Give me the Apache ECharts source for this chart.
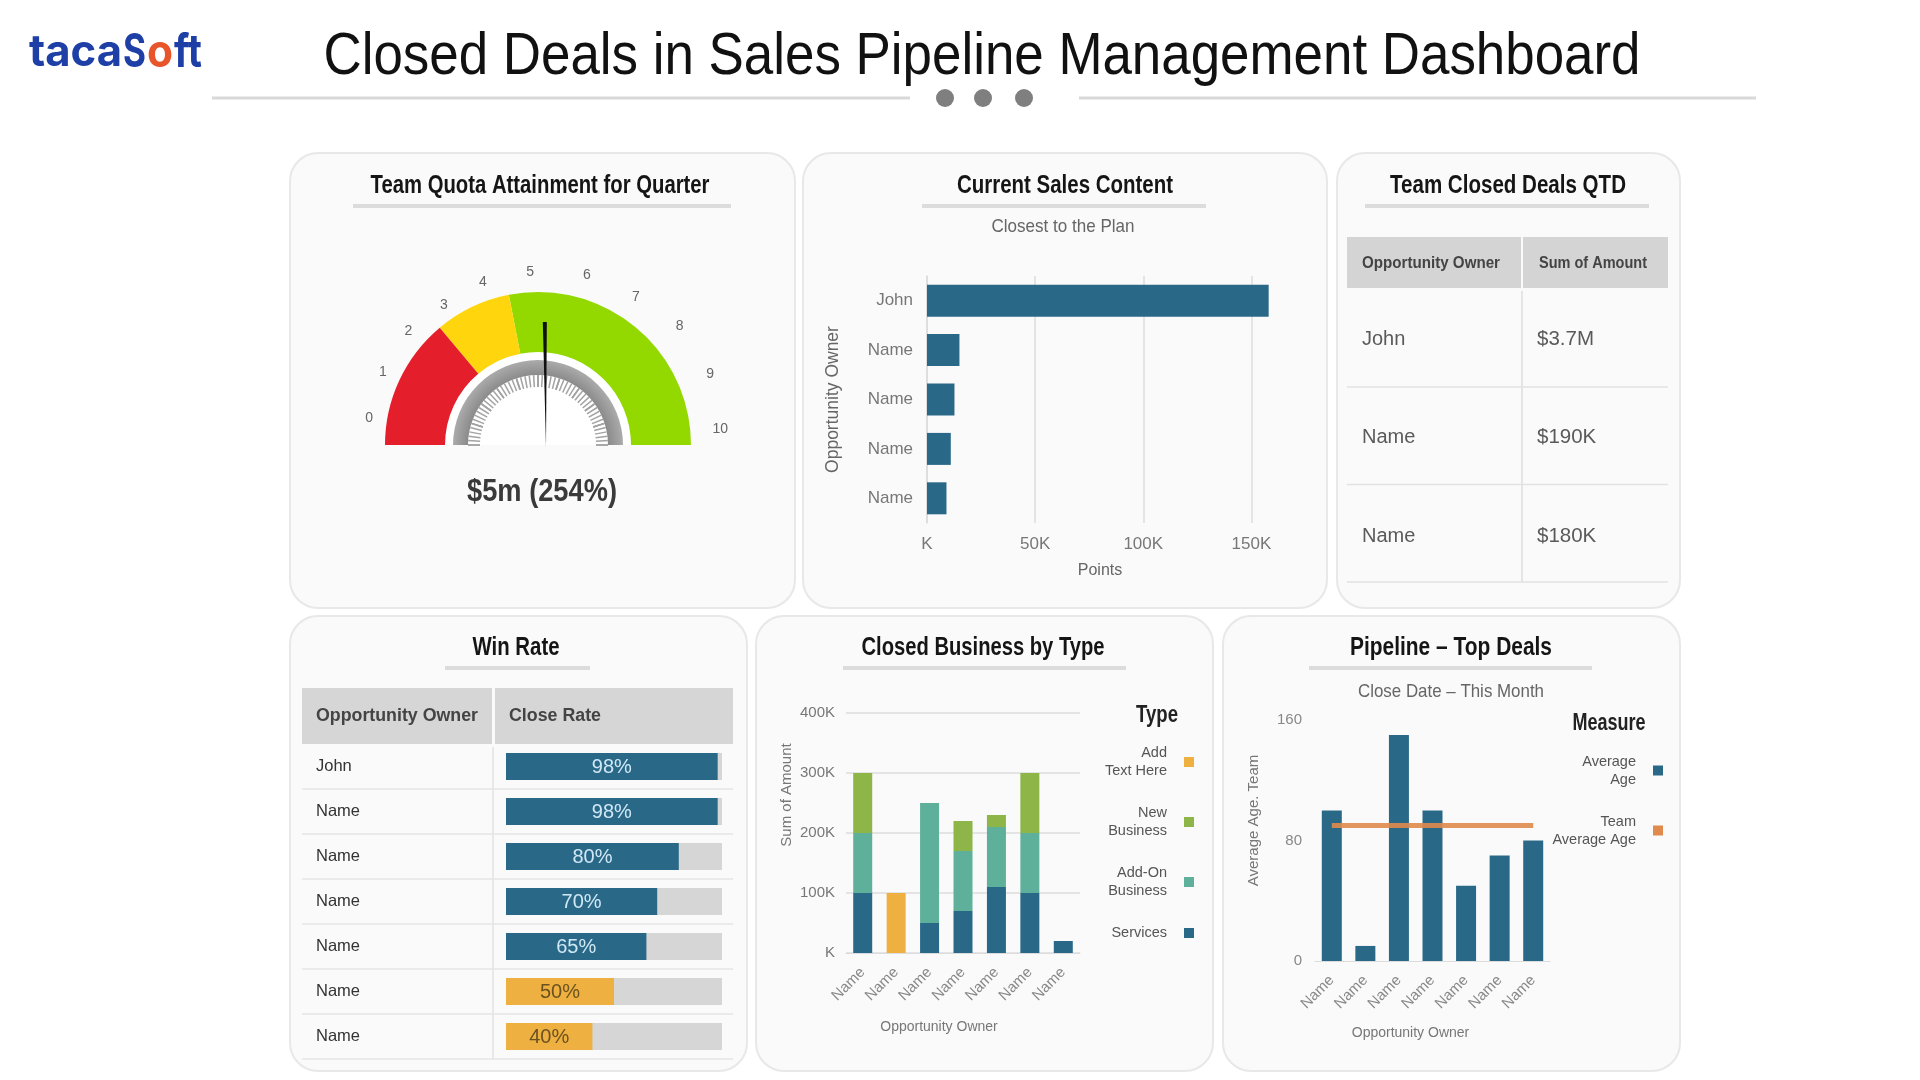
<!DOCTYPE html>
<html>
<head>
<meta charset="utf-8">
<title>Closed Deals in Sales Pipeline Management Dashboard</title>
<script src="https://cdn.jsdelivr.net/npm/echarts@6/dist/echarts.min.js"></script>
<style>
    html, body { margin: 0; padding: 0; background: #fff; }
    #main { width: 1920px; height: 1080px; }
</style>
</head>
<body>
<div id="main"></div>
<script>
var mainChart = echarts.init(document.getElementById('main'));

var SANS = '"Liberation Sans"';
var BLUE = '#2a6888', ORANGE = '#eeb040', GREEN = '#8db548', TEAL = '#5fb09b', LINE_ORANGE = '#e08a4c';

// panels: x, y, width, height
var panels = [
    [290, 153, 505, 455],
    [803, 153, 524, 455],
    [1337, 153, 343, 455],
    [290, 616, 457, 455],
    [756, 616, 457, 455],
    [1223, 616, 457, 455]
];

// panel headings: text, centre x, y, width, underline from, underline to
var headings = [
    ['Team Quota Attainment for Quarter', 540, 184, 339, 353, 731],
    ['Current Sales Content', 1065, 184, 216, 922, 1206],
    ['Team Closed Deals QTD', 1508, 184, 236, 1365, 1649],
    ['Win Rate', 516, 646, 87, 445, 590],
    ['Closed Business by Type', 983, 646, 243, 843, 1126],
    ['Pipeline \u2013 Top Deals', 1451, 646, 202, 1309, 1592]
];

var contentData = [
    { name: 'John', value: 158000 },
    { name: 'Name', value: 15000 },
    { name: 'Name', value: 12700 },
    { name: 'Name', value: 11000 },
    { name: 'Name', value: 9000 }
];

var dealsTable = [
    ['John', '$3.7M'],
    ['Name', '$190K'],
    ['Name', '$180K']
];

var winRate = [
    ['John', 98], ['Name', 98], ['Name', 80], ['Name', 70], ['Name', 65], ['Name', 50], ['Name', 40]
];

var owners = ['Name', 'Name', 'Name', 'Name', 'Name', 'Name', 'Name'];
var closedBusiness = {
    'Add Text Here': [0, 100000, 0, 0, 0, 0, 0],
    'New Business': [100000, 0, 0, 50000, 20000, 100000, 0],
    'Add-On Business': [100000, 0, 200000, 100000, 100000, 100000, 0],
    'Services': [100000, 0, 50000, 70000, 110000, 100000, 20000]
};
var averageAge = [100, 10, 150, 100, 50, 70, 80];
var teamAverageAge = [90, 90, 90, 90, 90, 90, 90];

var graphic = [];
var measureCtx = document.createElement('canvas').getContext('2d');

// the reference uses a condensed face, so squeeze the text to the width it has there
function addText(text, x, y, size, color, opts) {
    opts = opts || {};
    var family = opts.family || SANS;
    var weight = opts.weight || 'normal';
    var el = {
        type: 'text', x: x, y: y, z: 3,
        style: {
            text: text, x: 0, y: 0, fill: color, fontSize: size, fontFamily: family, fontWeight: weight,
            textAlign: opts.align || 'left', textVerticalAlign: 'middle'
        }
    };
    if (opts.width) {
        measureCtx.font = weight + ' ' + size + 'px ' + family;
        el.scaleX = opts.width / measureCtx.measureText(text).width;
    }
    graphic.push(el);
}

function addRect(x, y, w, h, fill) {
    graphic.push({ type: 'rect', z: 1, shape: { x: x, y: y, width: w, height: h }, style: { fill: fill } });
}

function addLine(x1, y1, x2, y2, color, width) {
    graphic.push({ type: 'line', z: 1, shape: { x1: x1, y1: y1, x2: x2, y2: y2 }, style: { stroke: color, lineWidth: width } });
}

panels.forEach(function(p) {
    graphic.push({
        type: 'rect', z: 0,
        shape: { x: p[0], y: p[1], width: p[2], height: p[3], r: 28 },
        style: { fill: '#fafafa', stroke: '#e8e8e8', lineWidth: 2 }
    });
});

// page header
addText('Closed Deals in Sales Pipeline Management Dashboard', 982, 57, 60, '#111', { align: 'center', width: 1317 });
addLine(212, 98, 910, 98, '#d9d9d9', 3);
addLine(1079, 98, 1756, 98, '#d9d9d9', 3);
[945, 983, 1024].forEach(function(x) {
    graphic.push({ type: 'circle', z: 1, shape: { cx: x, cy: 98, r: 9 }, style: { fill: '#7f7f7f' } });
});

// logo
addText('taca', 29, 53, 44, '#1d3fa6', { family: 'Inter', weight: 'bold', width: 93 });
addText('S', 123, 53, 46, '#1d3fa6', { family: 'Inter', weight: 'bold', width: 23 });
addText('o', 147, 53, 46, '#e8552a', { family: 'Inter', weight: 'bold', width: 26 });
addText('ft', 174, 53, 46, '#1d3fa6', { family: 'Inter', weight: 'bold', width: 28 });

headings.forEach(function(h) {
    addText(h[0], h[1], h[2] + 2, 25, '#151515', { weight: 'bold', align: 'center', width: h[3] });
    addLine(h[4], h[2] + 22, h[5], h[2] + 22, '#dcdcdc', 4);
});
addText('Closest to the Plan', 1063, 227, 19, '#666', { align: 'center', width: 143 });
addText('Close Date \u2013 This Month', 1451, 692, 19, '#666', { align: 'center', width: 186 });

// gauge reading
addText('$5m (254%)', 542, 492, 32, '#3a3a3a', { weight: 'bold', align: 'center', width: 150 });

// Team Closed Deals table
addRect(1347, 237, 174, 51, '#d4d4d4');
addRect(1523, 237, 145, 51, '#d4d4d4');
addText('Opportunity Owner', 1362, 263, 17, '#444', { weight: 'bold', width: 138 });
addText('Sum of Amount', 1539, 263, 17, '#444', { weight: 'bold', width: 108 });
addLine(1522, 291, 1522, 582, '#dedede', 1.5);
dealsTable.forEach(function(row, i) {
    var y = 339 + i * 98.5;
    addText(row[0], 1362, y, 20, '#5a5a5a');
    addText(row[1], 1537, y, 20.5, '#5a5a5a');
    addLine(1347, 387 + i * 97.5, 1668, 387 + i * 97.5, '#e2e2e2', 1.5);
});

// Win Rate table
addRect(302, 688, 190, 56, '#d6d6d6');
addRect(495, 688, 238, 56, '#d6d6d6');
addText('Opportunity Owner', 316, 716, 18, '#444', { weight: 'bold', width: 162 });
addText('Close Rate', 509, 716, 18, '#444', { weight: 'bold', width: 92 });
addLine(493, 747, 493, 1059, '#e2e2e2', 1.5);
winRate.forEach(function(row, i) {
    addLine(302, 744 + (i + 1) * 45, 733, 744 + (i + 1) * 45, '#e4e4e4', 1.5);
});

// legend headings
addText('Type', 1157, 715, 24, '#222', { weight: 'bold', align: 'center', width: 42 });
addText('Measure', 1609, 723, 24, '#222', { weight: 'bold', align: 'center', width: 73 });

var axisGrey = '#777';

function kFormat(v) {
    return v === 0 ? 'K' : (v / 1000) + 'K';
}

var option = {
    animation: false,
    backgroundColor: '#fff',
    graphic: graphic,
    grid: [
        { left: 927, top: 276, width: 346, height: 247 },
        { left: 506, top: 744, width: 216, height: 315 },
        { left: 846, top: 713, width: 234, height: 240 },
        { left: 1315, top: 720, width: 235, height: 241 }
    ],
    legend: [{
        orient: 'vertical', align: 'right', icon: 'rect',
        right: 721, top: 733, itemWidth: 10, itemHeight: 10, itemGap: 12,
        data: ['Add Text Here', 'New Business', 'Add-On Business', 'Services'],
        formatter: function(name) {
            return { 'Add Text Here': 'Add\nText Here', 'New Business': 'New\nBusiness', 'Add-On Business': 'Add-On\nBusiness', 'Services': 'Services' }[name];
        },
        textStyle: { fontFamily: SANS, fontSize: 14.5, lineHeight: 18, color: '#555', padding: [12, 12, 0, 0] }
    }, {
        orient: 'vertical', align: 'right', icon: 'rect',
        right: 252, top: 742, itemWidth: 10, itemHeight: 10, itemGap: 13,
        data: ['Average Age', 'Team Average Age'],
        formatter: function(name) {
            return { 'Average Age': 'Average\nAge', 'Team Average Age': 'Team\nAverage Age' }[name];
        },
        textStyle: { fontFamily: SANS, fontSize: 14.5, lineHeight: 18, color: '#555', padding: [11, 12, 0, 0] }
    }],
    xAxis: [{
        gridIndex: 0, type: 'value', min: 0, max: 160000, interval: 50000,
        name: 'Points', nameLocation: 'middle', nameGap: 40,
        nameTextStyle: { fontFamily: SANS, fontSize: 16, color: '#666' },
        axisLine: { show: false }, axisTick: { show: false },
        axisLabel: { formatter: kFormat, showMaxLabel: false, margin: 13, fontFamily: SANS, fontSize: 17, color: axisGrey },
        splitLine: { showMaxLine: false, lineStyle: { color: '#dcdcdc', width: 1.5 } }
    }, {
        gridIndex: 1, type: 'value', min: 0, max: 100, show: false
    }, {
        gridIndex: 2, type: 'category', data: owners,
        name: 'Opportunity Owner', nameLocation: 'middle', nameGap: 67,
        nameTextStyle: { fontFamily: SANS, fontSize: 14, color: '#777', padding: [0, 48, 0, 0] },
        axisLine: { lineStyle: { color: '#dcdcdc' } }, axisTick: { show: false },
        axisLabel: { rotate: 45, interval: 0, margin: 17, fontFamily: SANS, fontSize: 15, color: '#888' }
    }, {
        gridIndex: 3, type: 'category', data: owners,
        name: 'Opportunity Owner', nameLocation: 'middle', nameGap: 65,
        nameTextStyle: { fontFamily: SANS, fontSize: 14, color: '#777', padding: [0, 44, 0, 0] },
        axisLine: { lineStyle: { color: '#dcdcdc' } }, axisTick: { show: false },
        axisLabel: { rotate: 45, interval: 0, margin: 17, fontFamily: SANS, fontSize: 15, color: '#888' }
    }],
    yAxis: [{
        gridIndex: 0, type: 'category', inverse: true,
        data: contentData.map(function(d) { return d.name; }),
        name: 'Opportunity Owner', nameLocation: 'middle', nameGap: 85,
        nameTextStyle: { fontFamily: SANS, fontSize: 17.5, color: '#666' },
        axisLine: { lineStyle: { color: '#dcdcdc', width: 1.5 } }, axisTick: { show: false },
        axisLabel: { margin: 14, fontFamily: SANS, fontSize: 17, color: axisGrey }
    }, {
        gridIndex: 1, type: 'category', inverse: true,
        data: winRate.map(function(d) { return d[0]; }),
        axisLine: { show: false }, axisTick: { show: false },
        axisLabel: { margin: 190, align: 'left', padding: [8, 0, 0, 0], fontFamily: SANS, fontSize: 16.5, color: '#333' }
    }, {
        gridIndex: 2, type: 'value', min: 0, max: 400000, interval: 100000,
        name: 'Sum of Amount', nameLocation: 'middle', nameGap: 52,
        nameTextStyle: { fontFamily: SANS, fontSize: 15, color: '#777', padding: [0, 0, 0, 76] },
        axisLine: { show: false }, axisTick: { show: false },
        axisLabel: { formatter: kFormat, margin: 11, fontFamily: SANS, fontSize: 15, color: axisGrey },
        splitLine: { lineStyle: { color: '#dcdcdc', width: 1.5 } }
    }, {
        gridIndex: 3, type: 'value', min: 0, max: 160, interval: 80,
        name: 'Average Age. Team', nameLocation: 'middle', nameGap: 54,
        nameTextStyle: { fontFamily: SANS, fontSize: 15, color: '#777', padding: [0, 0, 0, 40] },
        axisLine: { show: false }, axisTick: { show: false },
        axisLabel: { margin: 13, fontFamily: SANS, fontSize: 15, color: '#888' },
        splitLine: { show: false }
    }],
    series: [
        // gauge: white disc, coloured band, grey ring, tick marks, number rings, needle
        {
            type: 'gauge', center: [538, 445], radius: 93, startAngle: 180, endAngle: 0,
            axisLine: { lineStyle: { width: 93, color: [[1, '#fff']] } },
            axisTick: { show: false }, splitLine: { show: false }, axisLabel: { show: false },
            pointer: { show: false }, detail: { show: false }, title: { show: false }, data: []
        },
        {
            type: 'gauge', center: [538, 445], radius: 153, startAngle: 180, endAngle: 0,
            axisLine: { lineStyle: { width: 60, color: [[0.278, '#e41f2b'], [0.439, '#ffd60e'], [1, '#93d900']] } },
            axisTick: { show: false }, splitLine: { show: false }, axisLabel: { show: false },
            pointer: { show: false }, detail: { show: false }, title: { show: false }, data: []
        },
        {
            type: 'gauge', center: [538, 445], radius: 85, startAngle: 180, endAngle: 0,
            axisLine: {
                lineStyle: {
                    width: 15,
                    color: [[1, { type: 'radial', x: 538, y: 445, r: 85, global: true, colorStops: [{ offset: 0.82, color: '#8a8a8a' }, { offset: 1, color: '#ababab' }] }]]
                }
            },
            axisTick: { show: false }, splitLine: { show: false }, axisLabel: { show: false },
            pointer: { show: false }, detail: { show: false }, title: { show: false }, data: []
        },
        {
            type: 'gauge', center: [538, 445], radius: 70, startAngle: 180, endAngle: 0, min: 0, max: 10, splitNumber: 10,
            axisLine: { show: false, lineStyle: { width: 0 } },
            axisTick: { show: true, splitNumber: 5, length: 12, distance: 0, lineStyle: { color: '#a3a3a3', width: 1.5 } },
            splitLine: { show: true, length: 12, distance: 0, lineStyle: { color: '#a3a3a3', width: 1.5 } },
            axisLabel: { show: false },
            pointer: { show: false }, detail: { show: false }, title: { show: false }, data: []
        },
        // the numbers sit closer together left of 5 than right of it, so two arcs
        {
            type: 'gauge', center: [546, 447], radius: 183, startAngle: 171, endAngle: 95, min: 0, max: 5, splitNumber: 5,
            axisLine: { show: false, lineStyle: { width: 0 } }, axisTick: { show: false },
            splitLine: { show: false, length: 0, distance: 0 },
            axisLabel: { show: true, distance: 0, align: 'center', verticalAlign: 'middle', fontFamily: SANS, fontSize: 14, color: '#666' },
            pointer: { show: false }, detail: { show: false }, title: { show: false }, data: []
        },
        {
            type: 'gauge', center: [546, 447], radius: 183, startAngle: 95, endAngle: 5.5, min: 5, max: 10, splitNumber: 5,
            axisLine: { show: false, lineStyle: { width: 0 } }, axisTick: { show: false },
            splitLine: { show: false, length: 0, distance: 0 },
            axisLabel: {
                show: true, distance: 0, align: 'center', verticalAlign: 'middle', fontFamily: SANS, fontSize: 14, color: '#666',
                formatter: function(v) { return v === 5 ? '' : v; }
            },
            pointer: { show: false }, detail: { show: false }, title: { show: false }, data: []
        },
        {
            type: 'gauge', center: [546, 447], radius: 130, startAngle: 180, endAngle: 0, min: 0, max: 10,
            axisLine: { show: false }, axisTick: { show: false }, splitLine: { show: false }, axisLabel: { show: false },
            pointer: { icon: 'path://M0 0 L10 0 L5 100 Z', length: 125, width: 4, itemStyle: { color: '#111' } },
            anchor: { show: false }, title: { show: false }, detail: { show: false },
            data: [{ value: 4.97 }]
        },
        // Current Sales Content
        {
            type: 'bar', xAxisIndex: 0, yAxisIndex: 0, barWidth: 32,
            itemStyle: { color: BLUE },
            data: contentData.map(function(d) { return d.value; })
        },
        // Win Rate
        {
            type: 'bar', xAxisIndex: 1, yAxisIndex: 1, barWidth: 27,
            showBackground: true, backgroundStyle: { color: '#d6d6d6' },
            label: {
                show: true, position: 'inside', offset: [0, 1], fontFamily: SANS, fontSize: 20,
                formatter: function(p) { return p.value + '%'; }
            },
            data: winRate.map(function(d) {
                var low = d[1] <= 50;
                return {
                    value: d[1],
                    itemStyle: { color: low ? ORANGE : BLUE },
                    label: { color: low ? '#6a5220' : '#cfe8f5' }
                };
            })
        },
        // Closed Business by Type
        { name: 'Services', type: 'bar', stack: 'type', xAxisIndex: 2, yAxisIndex: 2, barWidth: 19, itemStyle: { color: BLUE }, data: closedBusiness['Services'] },
        { name: 'Add-On Business', type: 'bar', stack: 'type', xAxisIndex: 2, yAxisIndex: 2, barWidth: 19, itemStyle: { color: TEAL }, data: closedBusiness['Add-On Business'] },
        { name: 'New Business', type: 'bar', stack: 'type', xAxisIndex: 2, yAxisIndex: 2, barWidth: 19, itemStyle: { color: GREEN }, data: closedBusiness['New Business'] },
        { name: 'Add Text Here', type: 'bar', stack: 'type', xAxisIndex: 2, yAxisIndex: 2, barWidth: 19, itemStyle: { color: ORANGE }, data: closedBusiness['Add Text Here'] },
        // Pipeline - Top Deals
        { name: 'Average Age', type: 'bar', xAxisIndex: 3, yAxisIndex: 3, barWidth: 20, itemStyle: { color: BLUE }, data: averageAge },
        {
            name: 'Team Average Age', type: 'line', xAxisIndex: 3, yAxisIndex: 3, symbol: 'none',
            lineStyle: { color: LINE_ORANGE, width: 5, opacity: 0.9 }, itemStyle: { color: LINE_ORANGE },
            data: teamAverageAge
        }
    ]
};

mainChart.setOption(option);
</script>
</body>
</html>
